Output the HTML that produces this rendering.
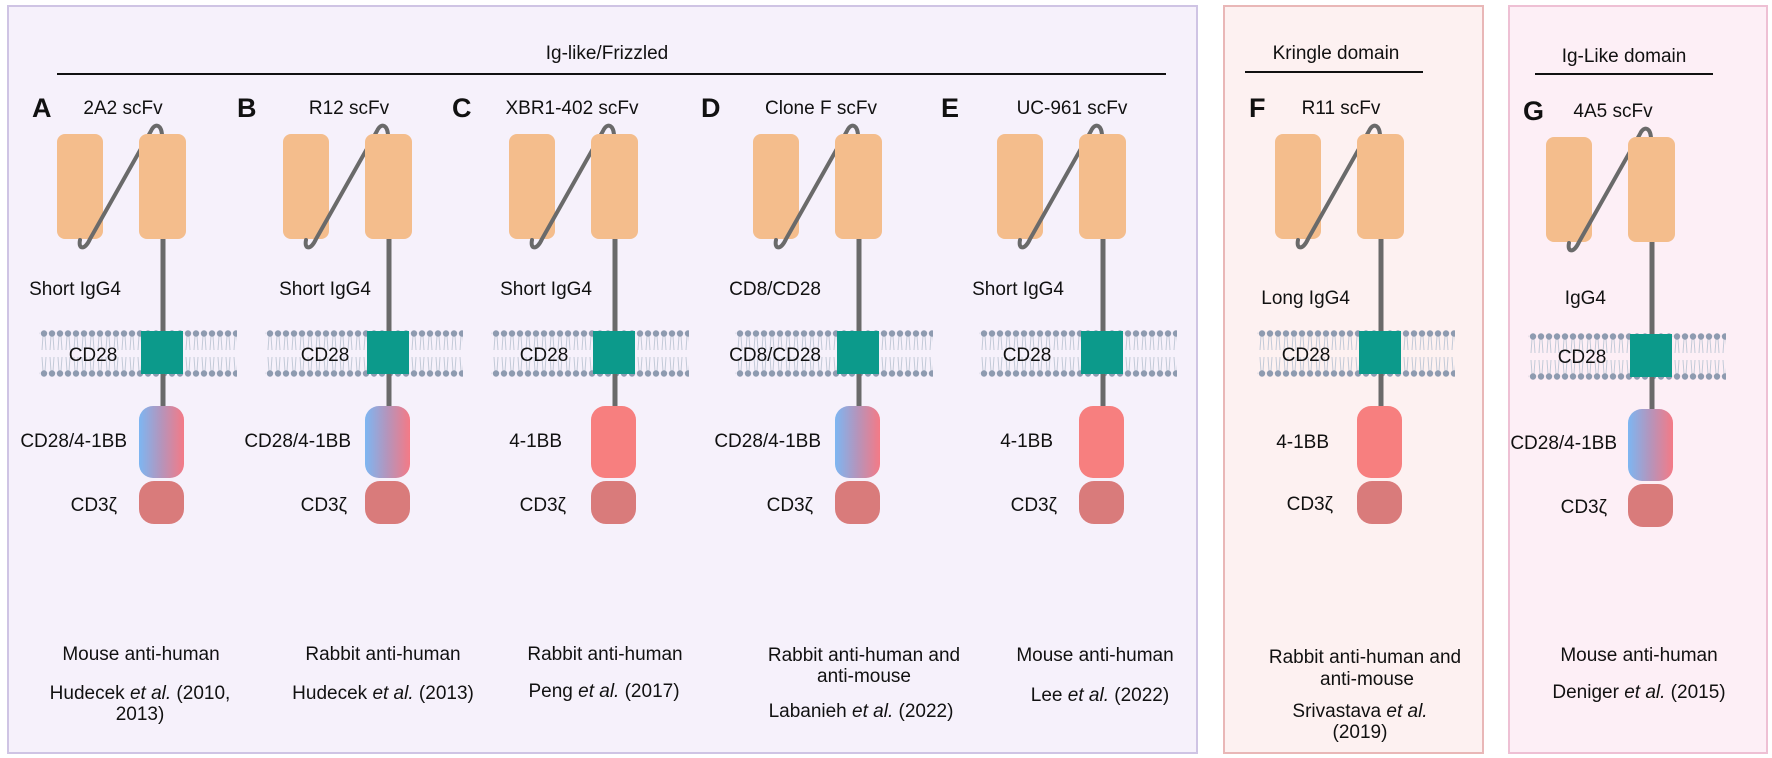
<!DOCTYPE html>
<html><head><meta charset="utf-8"><style>
html,body{margin:0;padding:0;background:#fff;}
svg{display:block;}
text{font-family:"Liberation Sans",Arial,sans-serif;font-size:19px;fill:#111;}
.L{font-weight:bold;font-size:27px;}
</style></head><body>
<svg width="1772" height="758" viewBox="0 0 1772 758" xmlns="http://www.w3.org/2000/svg">
<defs>
<pattern id="mem" x="0" y="330" width="8" height="47" patternUnits="userSpaceOnUse">
<line x1="3" y1="6" x2="2" y2="20" stroke="#c3cad8" stroke-width="1"/>
<line x1="5" y1="6" x2="6" y2="20" stroke="#c3cad8" stroke-width="1"/>
<line x1="2" y1="27" x2="3" y2="41" stroke="#c3cad8" stroke-width="1"/>
<line x1="6" y1="27" x2="5" y2="41" stroke="#c3cad8" stroke-width="1"/>
<circle cx="4" cy="3.5" r="3.2" fill="#8e9bb0"/>
<circle cx="4" cy="43.5" r="3.2" fill="#8e9bb0"/>
</pattern>
<linearGradient id="grad" x1="0" y1="0" x2="1" y2="0">
<stop offset="0" stop-color="#7db6f2"/><stop offset="0.5" stop-color="#b594bb"/><stop offset="1" stop-color="#f47a86"/>
</linearGradient>
<g id="base">
<rect x="39" y="330" width="198" height="47" fill="url(#mem)"/>
<line x1="163" y1="236" x2="163" y2="410" stroke="#6a6a6a" stroke-width="5"/>
<rect x="57" y="134" width="46" height="105" rx="8" fill="#f4bd8c"/>
<path d="M162,140 C163,124 155,122 151,131 L90,239 C85,250 78,250 80,240" fill="none" stroke="#6a6a6a" stroke-width="4" stroke-linecap="round"/>
<rect x="139" y="134" width="47" height="105" rx="8" fill="#f4bd8c"/>
<rect x="141" y="331" width="42" height="43" fill="#0c9a8b"/>
<rect x="139" y="481" width="45" height="43" rx="15" fill="#d97b7b"/>
</g>
<rect id="grd" x="139" y="406" width="45" height="72" rx="14" fill="url(#grad)"/>
<rect id="red" x="139" y="406" width="45" height="72" rx="14" fill="#f77f7f"/>
</defs>

<rect x="8" y="6" width="1189" height="747" fill="#f6f1fb" stroke="#cfc4e4" stroke-width="2"/>
<rect x="1224" y="6" width="259" height="747" fill="#fdf1f1" stroke="#e9b7b7" stroke-width="2"/>
<rect x="1509" y="6" width="258" height="747" fill="#fdeff6" stroke="#eec0d4" stroke-width="2"/>

<line x1="57" y1="74" x2="1166" y2="74" stroke="#111" stroke-width="2"/>
<text x="607" y="59" text-anchor="middle">Ig-like/Frizzled</text>
<line x1="1245" y1="72" x2="1423" y2="72" stroke="#111" stroke-width="2"/>
<text x="1336" y="59" text-anchor="middle">Kringle domain</text>
<line x1="1535" y1="74" x2="1713" y2="74" stroke="#111" stroke-width="2"/>
<text x="1624" y="62" text-anchor="middle">Ig-Like  domain</text>

<!-- A -->
<use href="#base"/><use href="#grd"/>
<text class="L" x="32" y="117">A</text>
<text x="123" y="114" text-anchor="middle">2A2 scFv</text>
<text x="121" y="295" text-anchor="end">Short IgG4</text>
<text x="93" y="361" text-anchor="middle">CD28</text>
<text x="127" y="447" text-anchor="end">CD28/4-1BB</text>
<text x="117" y="511" text-anchor="end">CD3ζ</text>
<text x="141" y="660" text-anchor="middle">Mouse anti-human</text>
<text x="140" y="699" text-anchor="middle">Hudecek <tspan font-style="italic">et al.</tspan> (2010,</text>
<text x="140" y="720" text-anchor="middle">2013)</text>

<!-- B -->
<g transform="translate(226,0)"><use href="#base"/><use href="#grd"/></g>
<text class="L" x="237" y="117">B</text>
<text x="349" y="114" text-anchor="middle">R12 scFv</text>
<text x="371" y="295" text-anchor="end">Short IgG4</text>
<text x="325" y="361" text-anchor="middle">CD28</text>
<text x="351" y="447" text-anchor="end">CD28/4-1BB</text>
<text x="347" y="511" text-anchor="end">CD3ζ</text>
<text x="383" y="660" text-anchor="middle">Rabbit anti-human</text>
<text x="383" y="699" text-anchor="middle">Hudecek <tspan font-style="italic">et al.</tspan> (2013)</text>

<!-- C -->
<g transform="translate(452,0)"><use href="#base"/><use href="#red"/></g>
<text class="L" x="452" y="117">C</text>
<text x="572" y="114" text-anchor="middle">XBR1-402 scFv</text>
<text x="592" y="295" text-anchor="end">Short IgG4</text>
<text x="544" y="361" text-anchor="middle">CD28</text>
<text x="562" y="447" text-anchor="end">4-1BB</text>
<text x="566" y="511" text-anchor="end">CD3ζ</text>
<text x="605" y="660" text-anchor="middle">Rabbit anti-human</text>
<text x="604" y="697" text-anchor="middle">Peng <tspan font-style="italic">et al.</tspan> (2017)</text>

<!-- D -->
<g transform="translate(696,0)"><use href="#base"/><use href="#grd"/></g>
<text class="L" x="701" y="117">D</text>
<text x="821" y="114" text-anchor="middle">Clone F scFv</text>
<text x="821" y="295" text-anchor="end">CD8/CD28</text>
<text x="821" y="361" text-anchor="end">CD8/CD28</text>
<text x="821" y="447" text-anchor="end">CD28/4-1BB</text>
<text x="813" y="511" text-anchor="end">CD3ζ</text>
<text x="864" y="661" text-anchor="middle">Rabbit anti-human and</text>
<text x="864" y="682" text-anchor="middle">anti-mouse</text>
<text x="861" y="717" text-anchor="middle">Labanieh <tspan font-style="italic">et al.</tspan> (2022)</text>

<!-- E -->
<g transform="translate(940,0)"><use href="#base"/><use href="#red"/></g>
<text class="L" x="941" y="117">E</text>
<text x="1072" y="114" text-anchor="middle">UC-961 scFv</text>
<text x="1064" y="295" text-anchor="end">Short IgG4</text>
<text x="1027" y="361" text-anchor="middle">CD28</text>
<text x="1053" y="447" text-anchor="end">4-1BB</text>
<text x="1057" y="511" text-anchor="end">CD3ζ</text>
<text x="1095" y="661" text-anchor="middle">Mouse anti-human</text>
<text x="1100" y="701" text-anchor="middle">Lee <tspan font-style="italic">et al.</tspan> (2022)</text>

<!-- F -->
<g transform="translate(1218,0)"><use href="#base"/><use href="#red"/></g>
<text class="L" x="1249" y="117">F</text>
<text x="1341" y="114" text-anchor="middle">R11 scFv</text>
<text x="1350" y="304" text-anchor="end">Long IgG4</text>
<text x="1306" y="361" text-anchor="middle">CD28</text>
<text x="1329" y="448" text-anchor="end">4-1BB</text>
<text x="1333" y="510" text-anchor="end">CD3ζ</text>
<text x="1365" y="663" text-anchor="middle">Rabbit anti-human and</text>
<text x="1367" y="685" text-anchor="middle">anti-mouse</text>
<text x="1360" y="717" text-anchor="middle">Srivastava <tspan font-style="italic">et al.</tspan></text>
<text x="1360" y="738" text-anchor="middle">(2019)</text>

<!-- G -->
<g transform="translate(1489,3)"><use href="#base"/><use href="#grd"/></g>
<text class="L" x="1523" y="120">G</text>
<text x="1613" y="117" text-anchor="middle">4A5 scFv</text>
<text x="1606" y="304" text-anchor="end">IgG4</text>
<text x="1582" y="363" text-anchor="middle">CD28</text>
<text x="1617" y="449" text-anchor="end">CD28/4-1BB</text>
<text x="1607" y="513" text-anchor="end">CD3ζ</text>
<text x="1639" y="661" text-anchor="middle">Mouse anti-human</text>
<text x="1639" y="698" text-anchor="middle">Deniger <tspan font-style="italic">et al.</tspan> (2015)</text>
</svg>
</body></html>
